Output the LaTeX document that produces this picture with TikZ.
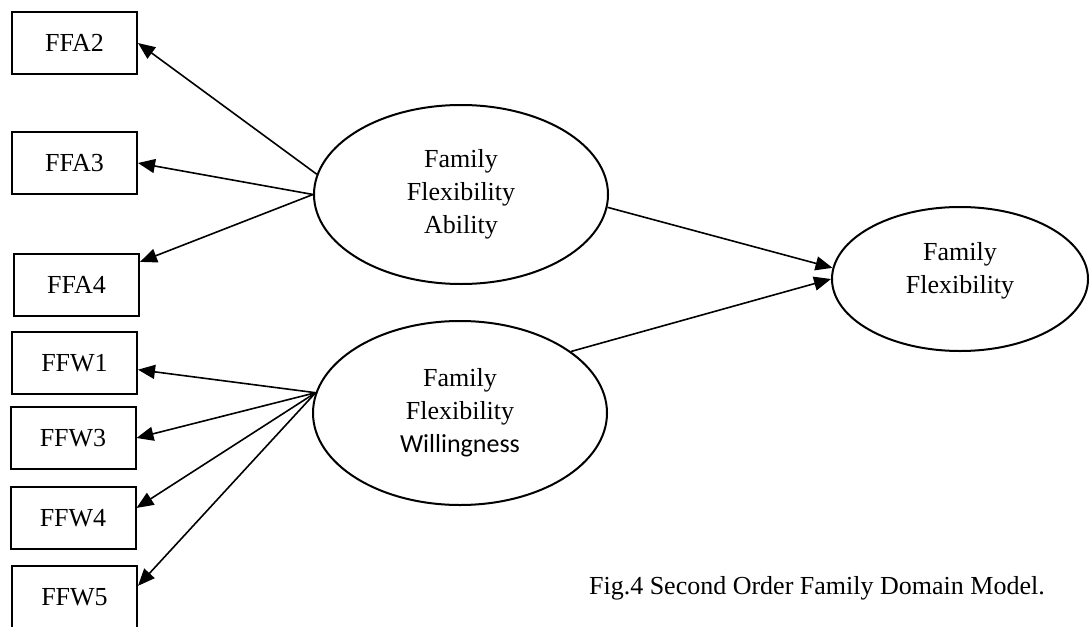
\documentclass[tikz,border=0pt]{standalone}
\usepackage{fontspec}
\setmainfont{Liberation Serif}
\newfontfamily\calibrifont{Carlito}
\usetikzlibrary{positioning,shapes.geometric,arrows.meta}

\begin{document}
\begin{tikzpicture}[x=0.5pt,y=-0.5pt,
			itembox/.style={rectangle, draw=black, line width=1pt, minimum width=62.5pt, minimum height=31pt, font=\fontsize{13}{16.5}\selectfont},
			latent/.style={ellipse, draw=black, line width=1pt, align=center, font=\fontsize{13}{16.5}\selectfont},
			loadarrow/.style={-{Triangle[length=8.5pt,width=7pt]}, line width=0.8pt},
		]
			\useasboundingbox (0,0) rectangle (1091,626);
		
			%Nodes
			\node[itembox]	(ffa2)	at (74.5,43)	{FFA2};
			\node[itembox]	(ffa3)	[below=28pt of ffa2]	{FFA3};
			\node[itembox]	(ffa4)	[below=29pt of ffa3, xshift=1pt]	{FFA4};
			\node[itembox]	(ffw1)	[below=7pt of ffa4, xshift=-1pt]	{FFW1};
			\node[itembox]	(ffw3)	[below=5.5pt of ffw1, xshift=-0.75pt]	{FFW3};
			\node[itembox]	(ffw4)	[below=8pt of ffw3]	{FFW4};
			\node[itembox]	(ffw5)	[below=7.5pt of ffw4, xshift=0.75pt]	{FFW5};
		
			\node[latent, minimum width=147pt, minimum height=89.5pt]	(ability)	at (461,194.5)	{Family\\Flexibility\\Ability};
			\node[latent, minimum width=147pt, minimum height=92pt]	(willing)	at (460,413)	{Family\\Flexibility\\{\calibrifont Willingness}};
			\node[latent, minimum width=128pt, minimum height=72pt]	(flex)	at (960,279)	{Family\\Flexibility\\[-5pt]};
		
			\node[anchor=base west, font=\fontsize{13}{16.5}\selectfont]	(caption)	at (582,594)	{Fig.4 Second Order Family Domain Model.};
		
			%Lines
			\draw[loadarrow]	(ability.172) -- (ffa2.east);
			\draw[loadarrow]	(ability.west) -- (ffa3.east);
			\draw[loadarrow]	(ability.west) -- (ffa4.20);
			\draw[loadarrow]	(willing.172) -- (ffw1.-6);
			\draw[loadarrow]	(willing.172) -- (ffw3.east);
			\draw[loadarrow]	(willing.172) -- (ffw4.9);
			\draw[loadarrow]	(willing.172) -- (ffw5.10);
			\draw[loadarrow]	(ability.-5) -- (flex.175);
			\draw[loadarrow]	(willing.29) -- (flex.west);
		
		\end{tikzpicture}
\end{document}
